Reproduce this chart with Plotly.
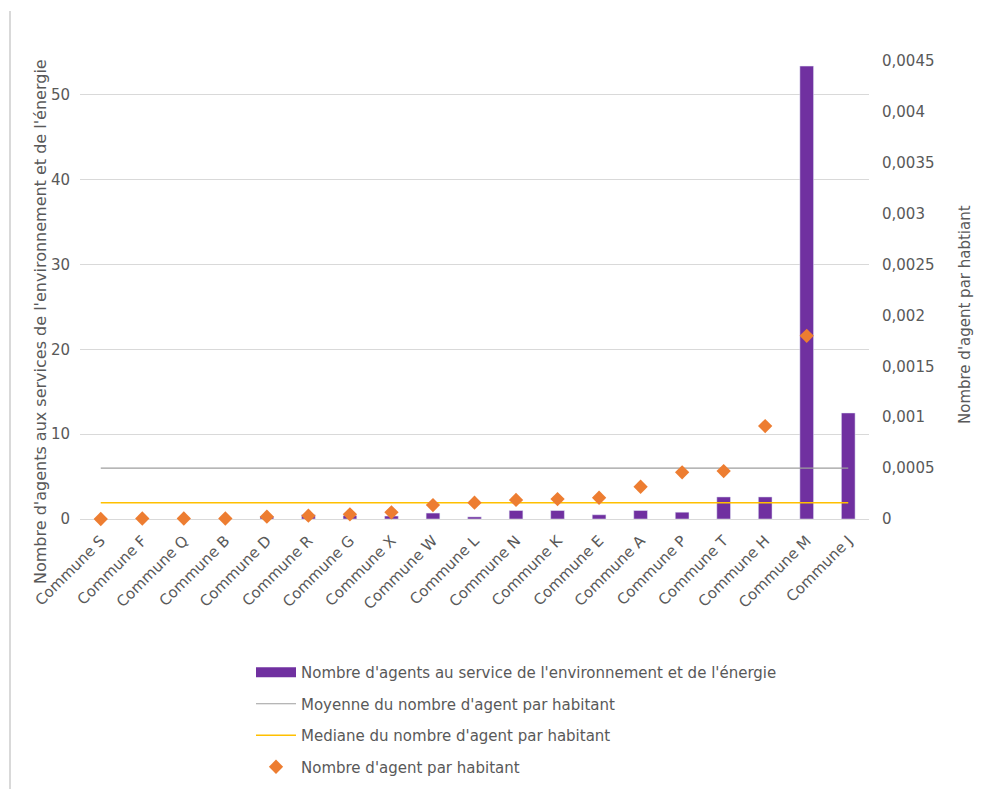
import plotly.graph_objects as go

# Communes, ordered by the number of agents per inhabitant
communes = ["Commune S", "Commune F", "Commune Q", "Commune B", "Commune D",
            "Commune R", "Commune G", "Commune X", "Commune W", "Commune L",
            "Commune N", "Commune K", "Commune E", "Commune A", "Commune P",
            "Commune T", "Commune H", "Commune M", "Commune J"]

# Agents in the environment and energy department (left axis)
agents = [0, 0, 0, 0, 0.3, 0.5, 0.4, 0.35, 0.7, 0.25,
          1, 1, 0.5, 1, 0.8, 2.6, 2.6, 53.4, 12.5]

# Agents per inhabitant (right axis)
agents_par_habitant = [0.0, 0.000005, 0.000005, 0.000005, 0.000023,
                       0.000033, 0.000046, 0.000066, 0.000137, 0.00016,
                       0.000187, 0.000196, 0.000209, 0.000317, 0.000459,
                       0.000471, 0.000913, 0.0018, 0.00451]

moyenne = 0.0005
mediane = 0.00016

left_ticks = [0, 10, 20, 30, 40, 50]
right_ticks = [0, 0.0005, 0.001, 0.0015, 0.002, 0.0025, 0.003, 0.0035, 0.004, 0.0045]
right_tick_labels = ["0", "0,0005", "0,001", "0,0015", "0,002", "0,0025",
                     "0,003", "0,0035", "0,004", "0,0045"]

PURPLE = "#7030A0"
ORANGE = "#ED7D31"
GREY_LINE = "#9E9E9E"
GOLD = "#FFC000"
TEXT = "#595959"
GRID = "#D9D9D9"
FONT = "DejaVu Sans"

W, H = 982, 789
ML, MR, MT, MB = 80, 113, 61, 270
PW = W - ML - MR
PH = H - MT - MB

fig = go.Figure()

fig.add_trace(go.Bar(
    x=communes, y=agents, marker_color=PURPLE, width=0.33,
    name="Nombre d'agents au service de l'environnement et de l'énergie",
    legendgroup="g1", showlegend=False, yaxis="y",
))
# legend entry drawn as a thick bar-like swatch
fig.add_trace(go.Scatter(
    x=[None], y=[None], mode="lines", line=dict(color=PURPLE, width=10),
    name="Nombre d'agents au service de l'environnement et de l'énergie",
    legendgroup="g1", yaxis="y",
))
fig.add_trace(go.Scatter(
    x=communes, y=[moyenne] * len(communes), mode="lines",
    line=dict(color=GREY_LINE, width=1.2),
    name="Moyenne du nombre d'agent par habitant",
    legendgroup="g2", yaxis="y2",
))
fig.add_trace(go.Scatter(
    x=communes, y=[mediane] * len(communes), mode="lines",
    line=dict(color=GOLD, width=1.5),
    name="Mediane du nombre d'agent par habitant",
    legendgroup="g3", yaxis="y2",
))
fig.add_trace(go.Scatter(
    x=communes, y=agents_par_habitant, mode="markers",
    marker=dict(symbol="diamond", size=11, color=ORANGE),
    name="Nombre d'agent par habitant", cliponaxis=False,
    legendgroup="g4", yaxis="y2",
))

def px_x(px):
    return (px - ML) / PW

def px_y(py):
    return (H - MB - py) / PH

fig.update_layout(
    width=W, height=H,
    margin=dict(l=ML, r=MR, t=MT, b=MB, autoexpand=False),
    paper_bgcolor="white", plot_bgcolor="white",
    separators=", ",
    font=dict(family=FONT, size=15, color=TEXT),
    xaxis=dict(
        tickangle=-45, tickfont=dict(size=15, color=TEXT),
        showgrid=False, showline=False, ticks="", automargin=False,
        ticklabelstandoff=9,
        range=[-0.5, len(communes) - 0.5],
    ),
    yaxis=dict(
        range=[0, 54], tickvals=left_ticks, automargin=False,
        showgrid=True, gridcolor=GRID, gridwidth=1,
        zeroline=True, zerolinecolor=GRID, zerolinewidth=1,
        tickfont=dict(size=15, color=TEXT), ticks="", ticklabelstandoff=9,
        showline=False,
    ),
    yaxis2=dict(
        overlaying="y", side="right", range=[0, 0.0045], automargin=False,
        tickvals=right_ticks, ticktext=right_tick_labels,
        showgrid=False, zeroline=False, ticklabelstandoff=12,
        tickfont=dict(size=15, color=TEXT), ticks="",
    ),
    legend=dict(
        orientation="v", x=px_x(251), y=px_y(656), xanchor="left", yanchor="top",
        font=dict(size=15, color=TEXT), tracegroupgap=9, itemwidth=40,
        traceorder="grouped", bgcolor="rgba(0,0,0,0)",
    ),
    annotations=[
        dict(text="Nombre d'agents aux services de l'environnement et de l'énergie",
             xref="paper", yref="paper", x=px_x(40), y=px_y(322),
             textangle=-90, showarrow=False, font=dict(size=16, color=TEXT),
             xanchor="center", yanchor="middle"),
        dict(text="Nombre d'agent par habtiant",
             xref="paper", yref="paper", x=px_x(965), y=px_y(315),
             textangle=-90, showarrow=False, font=dict(size=15, color=TEXT),
             xanchor="center", yanchor="middle"),
    ],
    shapes=[
        dict(type="line", xref="paper", yref="paper",
             x0=px_x(10), x1=px_x(10), y0=px_y(11), y1=px_y(789),
             line=dict(color=GRID, width=2)),
    ],
)

fig.write_html("out.html")
